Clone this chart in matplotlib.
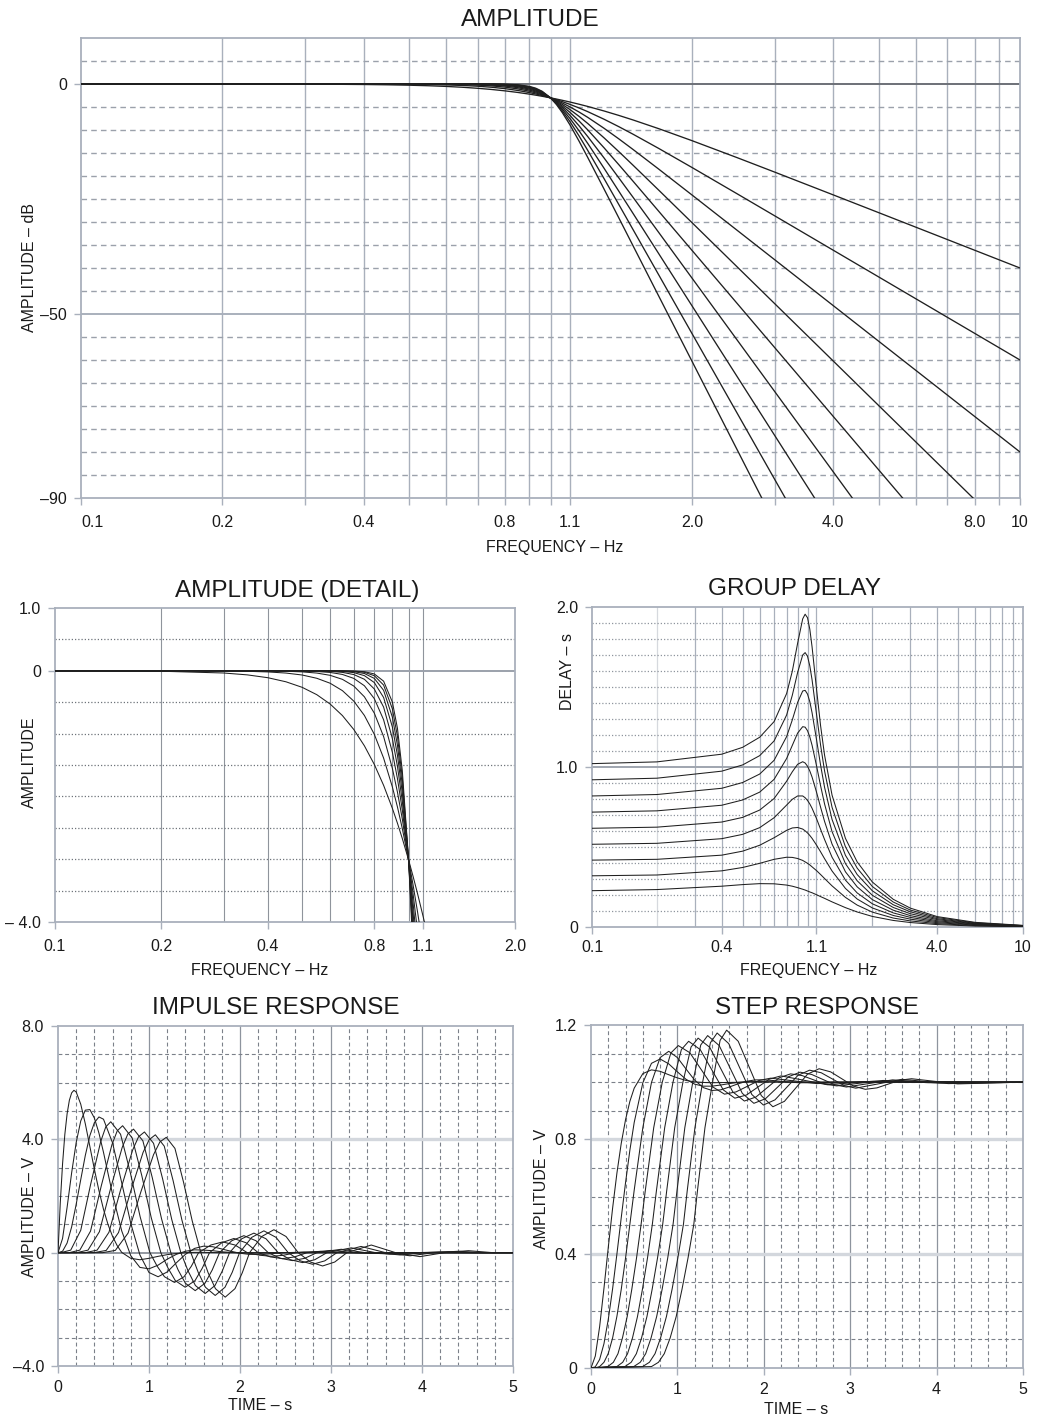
import matplotlib
matplotlib.use("Agg")
import matplotlib.pyplot as plt

plt.rcParams['font.family'] = ['Liberation Sans', 'DejaVu Sans']

W, H = 1038, 1420

# ── Amplitude (dB) vs frequency, orders 2..10 ─────────────
FREQ = [0.1, 0.2, 0.3, 0.35, 0.4, 0.45, 0.5, 0.55, 0.6, 0.65, 0.7, 0.75, 0.8, 0.85, 0.9,
        0.93, 0.96, 1.0, 1.03, 1.06, 1.1, 1.15, 1.2, 1.3, 1.4, 1.5, 1.7, 2.0, 2.5, 3.0,
        4.0, 5.0, 6.0, 8.0, 10.0]
AMP2 = [0.0, -0.007, -0.035, -0.065, -0.11, -0.175, -0.263, -0.38, -0.529, -0.713, -0.935,
        -1.194, -1.491, -1.824, -2.191, -2.426, -2.67, -3.01, -3.275, -3.546, -3.917, -4.392,
        -4.876, -5.862, -6.85, -7.827, -9.709, -12.304, -16.027, -19.138, -24.099, -27.966,
        -31.129, -36.125, -40.0]
AMP3 = [0.0, 0.0, -0.003, -0.008, -0.018, -0.036, -0.067, -0.119, -0.198, -0.316, -0.483,
        -0.711, -1.011, -1.39, -1.851, -2.167, -2.511, -3.01, -3.413, -3.836, -4.427, -5.202,
        -6.005, -7.654, -9.309, -10.931, -14.003, -18.129, -23.894, -28.633, -36.125,
        -41.939, -46.689, -54.185, -60.0]
AMP4 = [0.0, 0.0, 0.0, -0.001, -0.003, -0.007, -0.017, -0.036, -0.072, -0.136, -0.243,
        -0.414, -0.674, -1.047, -1.555, -1.93, -2.359, -3.01, -3.554, -4.139, -4.974, -6.084,
        -7.243, -9.618, -11.975, -14.254, -18.498, -24.099, -31.838, -38.17, -48.165,
        -55.918, -62.252, -72.247, -80.0]
AMP5 = [0.0, 0.0, 0.0, 0.0, 0.0, -0.002, -0.004, -0.011, -0.026, -0.058, -0.121,
        -0.238, -0.443, -0.78, -1.299, -1.714, -2.214, -3.01, -3.699, -4.457, -5.556, -7.029,
        -8.568, -11.698, -14.76, -17.684, -23.066, -30.107, -39.794, -47.712, -60.206,
        -69.897, -77.815, -90.309, -100.0]
AMP6 = [0.0, 0.0, 0.0, 0.0, 0.0, 0.0, -0.001, -0.003, -0.009, -0.025, -0.06,
        -0.135, -0.289, -0.578, -1.08, -1.519, -2.076, -3.01, -3.849, -4.789, -6.168, -8.028,
        -9.963, -13.856, -17.611, -21.164, -27.661, -36.125, -47.753, -57.255, -72.247,
        -83.876, -93.378, -108.37, -120.0]
AMP7 = [0.0, 0.0, 0.0, 0.0, 0.0, 0.0, 0.0, -0.001, -0.003, -0.01, -0.029,
        -0.077, -0.187, -0.425, -0.895, -1.342, -1.944, -3.01, -4.001, -5.133, -6.81, -9.072,
        -11.411, -16.061, -20.497, -24.668, -32.265, -42.145, -55.712, -66.797, -84.288,
        -97.856, -108.93, -126.43, -140.0]
AMP8 = [0.0, 0.0, 0.0, 0.0, 0.0, 0.0, 0.0, 0.0, -0.001, -0.004, -0.014,
        -0.043, -0.121, -0.311, -0.738, -1.183, -1.82, -3.01, -4.158, -5.491, -7.478, -10.153,
        -12.898, -18.296, -23.4, -28.181, -36.873, -48.165, -63.67, -76.339, -96.33,
        -111.83, -124.5, -144.49, -160.0]
AMP9 = [0.0, 0.0, 0.0, 0.0, 0.0, 0.0, 0.0, 0.0, 0.0, -0.002, -0.007,
        -0.024, -0.078, -0.227, -0.607, -1.041, -1.702, -3.01, -4.318, -5.86, -8.169, -11.263,
        -14.413, -20.548, -26.313, -31.699, -41.481, -54.185, -71.629, -85.882, -108.37,
        -125.81, -140.07, -162.56, -180.0]
AMP10 = [0.0, 0.0, 0.0, 0.0, 0.0, 0.0, 0.0, 0.0, 0.0, -0.001, -0.003,
         -0.014, -0.05, -0.165, -0.498, -0.914, -1.59, -3.01, -4.481, -6.24, -8.88, -12.397,
         -15.948, -22.812, -29.231, -35.22, -46.09, -60.206, -79.588, -95.424, -120.41,
         -139.79, -155.63, -180.62, -200.0]
AMPS = [AMP2, AMP3, AMP4, AMP5, AMP6, AMP7, AMP8, AMP9, AMP10]

# ── Group delay (s) ───────────────────────────────────────
GD_FREQ = [0.1, 0.2, 0.4, 0.5, 0.6, 0.7, 0.8, 0.85, 0.9, 0.95, 0.975, 1.0, 1.025, 1.05,
           1.1, 1.15, 1.2, 1.3, 1.5, 1.7, 2.0, 2.5, 3.0, 4.0, 6.0, 10.0]
GD2 = [0.227, 0.234, 0.255, 0.265, 0.271, 0.270, 0.262, 0.255, 0.246, 0.236, 0.231, 0.225,
       0.219, 0.214, 0.202, 0.190, 0.179, 0.157, 0.121, 0.094, 0.066, 0.041, 0.028, 0.015,
       0.006, 0.002]
GD3 = [0.320, 0.325, 0.351, 0.372, 0.398, 0.423, 0.436, 0.435, 0.428, 0.416, 0.407, 0.398,
       0.388, 0.376, 0.353, 0.328, 0.303, 0.257, 0.185, 0.137, 0.093, 0.056, 0.038, 0.021,
       0.009, 0.003]
GD4 = [0.418, 0.423, 0.449, 0.474, 0.511, 0.558, 0.604, 0.619, 0.622, 0.612, 0.601, 0.588,
       0.572, 0.554, 0.513, 0.470, 0.427, 0.350, 0.241, 0.175, 0.119, 0.072, 0.049, 0.027,
       0.012, 0.004]
GD5 = [0.517, 0.523, 0.552, 0.579, 0.621, 0.683, 0.762, 0.798, 0.819, 0.819, 0.808, 0.791,
       0.769, 0.742, 0.679, 0.611, 0.547, 0.436, 0.293, 0.213, 0.145, 0.088, 0.060, 0.033,
       0.015, 0.005]
GD6 = [0.617, 0.624, 0.656, 0.685, 0.731, 0.803, 0.911, 0.970, 1.017, 1.033, 1.025, 1.005,
       0.975, 0.937, 0.845, 0.749, 0.660, 0.518, 0.345, 0.251, 0.171, 0.105, 0.071, 0.039,
       0.018, 0.006]
GD7 = [0.718, 0.726, 0.761, 0.794, 0.843, 0.923, 1.053, 1.135, 1.212, 1.252, 1.249, 1.227,
       1.188, 1.136, 1.011, 0.883, 0.769, 0.596, 0.396, 0.289, 0.198, 0.122, 0.083, 0.046,
       0.020, 0.007]
GD8 = [0.819, 0.828, 0.867, 0.903, 0.956, 1.042, 1.190, 1.294, 1.404, 1.475, 1.479, 1.456,
       1.408, 1.339, 1.175, 1.012, 0.873, 0.672, 0.448, 0.328, 0.226, 0.139, 0.095, 0.052,
       0.023, 0.008]
GD9 = [0.920, 0.930, 0.974, 1.013, 1.071, 1.163, 1.325, 1.448, 1.591, 1.700, 1.715, 1.692,
       1.632, 1.545, 1.335, 1.137, 0.975, 0.748, 0.501, 0.368, 0.253, 0.156, 0.106, 0.059,
       0.026, 0.009]
GD10 = [1.021, 1.032, 1.080, 1.123, 1.186, 1.284, 1.459, 1.598, 1.774, 1.926, 1.955, 1.933,
        1.861, 1.751, 1.493, 1.258, 1.074, 0.824, 0.554, 0.407, 0.281, 0.173, 0.118, 0.065,
        0.029, 0.010]
GDS = [GD2, GD3, GD4, GD5, GD6, GD7, GD8, GD9, GD10]

# ── Impulse response (V) ──────────────────────────────────
IMP_T2 = [0, 0.025, 0.05, 0.075, 0.1, 0.125, 0.15, 0.175, 0.2, 0.25, 0.3, 0.35, 0.4, 0.45,
          0.5, 0.55, 0.6, 0.65, 0.7, 0.8, 0.9, 1.0, 1.1, 1.2, 1.3, 1.4, 1.5, 1.6, 1.8, 2.0, 5.0]
IMP_V2 = [0, 1.76, 3.13, 4.17, 4.90, 5.38, 5.64, 5.73, 5.67, 5.24, 4.55, 3.75, 2.94, 2.19,
          1.53, 0.99, 0.57, 0.25, 0.01, -0.20, -0.25, -0.20, -0.13, -0.07, -0.03, 0.0, 0.01,
          0.01, 0.0, 0.0, 0.0]
IMP_T3 = [0, 0.05, 0.1, 0.15, 0.2, 0.25, 0.3, 0.35, 0.4, 0.45, 0.5, 0.6, 0.7, 0.8, 0.9, 1.0,
          1.1, 1.2, 1.3, 1.4, 1.5, 1.6, 1.7, 1.8, 1.9, 2.0, 2.2, 2.5, 5.0]
IMP_V3 = [0, 0.50, 1.60, 2.82, 3.89, 4.65, 5.03, 5.05, 4.75, 4.22, 3.54, 2.05, 0.77, -0.11,
          -0.52, -0.57, -0.44, -0.23, -0.06, 0.05, 0.10, 0.09, 0.07, 0.03, 0.01, -0.01, -0.01,
          0.0, 0.0]
IMP_T4 = [0, 0.05, 0.1, 0.15, 0.2, 0.25, 0.3, 0.35, 0.4, 0.45, 0.5, 0.6, 0.7, 0.8, 0.9, 1.0,
          1.1, 1.2, 1.3, 1.4, 1.5, 1.6, 1.7, 1.8, 1.9, 2.0, 2.1, 2.2, 2.3, 2.4, 2.5, 2.7, 3.0, 5.0]
IMP_V4 = [0, 0.05, 0.34, 0.91, 1.71, 2.58, 3.43, 4.13, 4.59, 4.79, 4.71, 3.87, 2.47, 1.03,
          -0.08, -0.70, -0.85, -0.68, -0.36, -0.06, 0.15, 0.23, 0.21, 0.13, 0.05, -0.02, -0.06,
          -0.06, -0.05, -0.02, 0.0, 0.02, 0.0, 0.0]
IMP_T5 = [0, 0.03, 0.14, 0.25, 0.36, 0.47, 0.525, 0.58, 0.6875, 0.795, 0.9025, 1.01, 1.09,
          1.17, 1.28, 1.385, 1.465, 1.545, 1.68, 1.81, 1.945, 2.08, 2.215, 2.35, 2.48, 2.615,
          2.88, 3.15, 3.42, 3.685, 5.0]
IMP_V5 = [0, 0, 0.09, 0.79, 2.43, 3.93, 4.44, 4.62, 4.18, 2.82, 1.27, 0, -0.48, -0.85, -1.05,
          -0.85, -0.48, 0, 0.27, 0.38, 0.27, 0, -0.09, -0.13, -0.09, 0, 0.045, 0, -0.015, 0, 0]
IMP_T6 = [0, 0.1225, 0.24, 0.3575, 0.475, 0.5925, 0.651, 0.71, 0.815, 0.92, 1.025, 1.13,
          1.21, 1.29, 1.3975, 1.505, 1.585, 1.665, 1.80, 1.9325, 2.066, 2.2, 2.334, 2.4675,
          2.601, 2.735, 3.0, 3.27, 3.54, 3.805, 5.0]
IMP_V6 = [0, 0, 0.09, 0.76, 2.35, 3.81, 4.30, 4.48, 4.05, 2.73, 1.23, 0, -0.55, -0.99, -1.22,
          -0.99, -0.55, 0, 0.35, 0.50, 0.35, 0, -0.15, -0.21, -0.15, 0, 0.08, 0, -0.03, 0, 0]
IMP_T7 = [0, 0.205, 0.33, 0.455, 0.58, 0.705, 0.7675, 0.83, 0.9325, 1.035, 1.1375, 1.24,
          1.32, 1.40, 1.5075, 1.615, 1.695, 1.775, 1.909, 2.0425, 2.176, 2.31, 2.444, 2.5775,
          2.711, 2.845, 3.1125, 3.38, 3.6475, 3.915, 4.18, 4.45, 5.0]
IMP_V7 = [0, 0, 0.09, 0.74, 2.29, 3.71, 4.19, 4.36, 3.95, 2.66, 1.20, 0, -0.61, -1.08, -1.34,
          -1.08, -0.61, 0, 0.42, 0.60, 0.42, 0, -0.20, -0.28, -0.20, 0, 0.12, 0, -0.05, 0,
          0.02, 0, 0]
IMP_T8 = [0, 0.30, 0.43, 0.56, 0.69, 0.82, 0.885, 0.95, 1.05, 1.15, 1.25, 1.35, 1.43, 1.51,
          1.6175, 1.725, 1.805, 1.885, 2.019, 2.1525, 2.286, 2.42, 2.554, 2.6875, 2.821,
          2.955, 3.2225, 3.49, 3.7575, 4.025, 4.29, 4.56, 5.0]
IMP_V8 = [0, 0, 0.09, 0.72, 2.24, 3.62, 4.09, 4.26, 3.86, 2.60, 1.17, 0, -0.65, -1.16, -1.44,
          -1.16, -0.65, 0, 0.49, 0.69, 0.49, 0, -0.25, -0.35, -0.25, 0, 0.17, 0, -0.08, 0,
          0.035, 0, 0]
IMP_T9 = [0, 0.395, 0.53, 0.665, 0.80, 0.935, 1.0025, 1.07, 1.1675, 1.265, 1.3625, 1.46,
          1.54, 1.62, 1.7275, 1.835, 1.915, 1.995, 2.129, 2.2625, 2.396, 2.53, 2.664, 2.7975,
          2.931, 3.065, 3.33, 3.60, 3.8675, 4.135, 4.40, 4.67, 5.0]
IMP_V9 = [0, 0, 0.08, 0.71, 2.18, 3.54, 3.99, 4.16, 3.76, 2.54, 1.14, 0, -0.69, -1.22, -1.51,
          -1.22, -0.69, 0, 0.54, 0.77, 0.54, 0, -0.29, -0.41, -0.29, 0, 0.22, 0, -0.11, 0,
          0.05, 0, 0]
IMP_T10 = [0, 0.49, 0.63, 0.77, 0.91, 1.05, 1.12, 1.19, 1.285, 1.38, 1.475, 1.57, 1.65, 1.73,
           1.8375, 1.945, 2.025, 2.105, 2.239, 2.3725, 2.506, 2.64, 2.774, 2.9075, 3.041,
           3.175, 3.4425, 3.71, 3.9775, 4.245, 4.51, 4.78, 5.0]
IMP_V10 = [0, 0, 0.08, 0.69, 2.14, 3.46, 3.91, 4.07, 3.68, 2.48, 1.12, 0, -0.71, -1.27,
           -1.57, -1.27, -0.71, 0, 0.57, 0.81, 0.57, 0, -0.33, -0.47, -0.33, 0, 0.27, 0,
           -0.14, 0, 0.07, 0, 0]
IMP_T = [IMP_T2, IMP_T3, IMP_T4, IMP_T5, IMP_T6, IMP_T7, IMP_T8, IMP_T9, IMP_T10]
IMP_V = [IMP_V2, IMP_V3, IMP_V4, IMP_V5, IMP_V6, IMP_V7, IMP_V8, IMP_V9, IMP_V10]

# ── Step response (V) ─────────────────────────────────────
STEP_T2 = [0, 0.05, 0.1, 0.15, 0.2, 0.25, 0.3, 0.35, 0.4, 0.45, 0.5, 0.6, 0.7, 0.8, 0.9, 1.0,
           1.1, 1.2, 1.3, 1.4, 1.6, 1.8, 5.0]
STEP_V2 = [0, 0.042, 0.145, 0.279, 0.422, 0.559, 0.682, 0.786, 0.869, 0.933, 0.979, 1.030,
           1.043, 1.038, 1.026, 1.015, 1.006, 1.001, 0.999, 0.998, 0.999, 1.0, 1.0]
STEP_T3 = [0, 0.05, 0.1, 0.15, 0.2, 0.25, 0.3, 0.35, 0.4, 0.45, 0.5, 0.6, 0.7, 0.8, 0.9, 1.0,
           1.1, 1.2, 1.3, 1.4, 1.5, 1.6, 1.7, 1.8, 1.9, 2.0, 2.2, 2.5, 5.0]
STEP_V3 = [0, 0.004, 0.030, 0.085, 0.170, 0.277, 0.399, 0.526, 0.649, 0.762, 0.859, 0.998,
           1.066, 1.081, 1.064, 1.036, 1.010, 0.993, 0.986, 0.986, 0.990, 0.995, 0.999, 1.002,
           1.002, 1.002, 1.001, 1.0, 1.0]
STEP_T4 = [0, 0.05, 0.1, 0.15, 0.2, 0.25, 0.3, 0.35, 0.4, 0.45, 0.5, 0.6, 0.7, 0.8, 0.9, 1.0,
           1.1, 1.2, 1.3, 1.4, 1.5, 1.6, 1.7, 1.8, 1.9, 2.0, 2.1, 2.2, 2.4, 2.6, 2.8, 5.0]
STEP_V4 = [0, 0.0, 0.005, 0.020, 0.051, 0.105, 0.181, 0.275, 0.385, 0.503, 0.622, 0.841,
           0.999, 1.086, 1.108, 1.086, 1.046, 1.007, 0.981, 0.971, 0.973, 0.983, 0.994, 1.003,
           1.008, 1.008, 1.006, 1.003, 0.998, 0.998, 1.0, 1.0]
STEP_T5 = [0, 0.195, 0.259, 0.312, 0.364, 0.419, 0.472, 0.527, 0.58, 0.629, 0.726, 0.825,
           0.924, 1.01, 1.144, 1.278, 1.411, 1.545, 1.679, 1.8125, 1.946, 2.08, 2.3475, 2.615,
           3.15, 5.0]
STEP_V5 = [0, 0.005, 0.02, 0.05, 0.105, 0.18, 0.275, 0.385, 0.503, 0.622, 0.841, 1.0, 1.102,
           1.128, 1.103, 1.043, 0.983, 0.958, 0.966, 0.986, 1.006, 1.014, 1.0045, 0.995, 1.002,
           1.0]
STEP_T6 = [0, 0.299, 0.367, 0.423, 0.480, 0.538, 0.595, 0.654, 0.71, 0.758, 0.853, 0.949,
           1.046, 1.13, 1.264, 1.3975, 1.531, 1.665, 1.799, 1.9325, 2.066, 2.2, 2.4675, 2.735,
           3.27, 5.0]
STEP_V6 = [0, 0.005, 0.02, 0.05, 0.105, 0.18, 0.275, 0.385, 0.503, 0.622, 0.841, 1.0, 1.114,
           1.143, 1.114, 1.0435, 0.973, 0.944, 0.955, 0.983, 1.011, 1.022, 1.0065, 0.991,
           1.0035, 1.0]
STEP_T7 = [0, 0.3925, 0.465, 0.525, 0.585, 0.6475, 0.7075, 0.77, 0.83, 0.877, 0.969, 1.064,
           1.158, 1.24, 1.374, 1.5075, 1.641, 1.775, 1.909, 2.0425, 2.176, 2.31, 2.444, 2.5775,
           2.711, 2.845, 3.38, 3.915, 5.0]
STEP_V7 = [0, 0.005, 0.02, 0.05, 0.105, 0.18, 0.275, 0.385, 0.503, 0.622, 0.841, 1.0, 1.123,
           1.154, 1.122, 1.044, 0.966, 0.934, 0.948, 0.9815, 1.015, 1.029, 1.023, 1.008, 0.993,
           0.987, 1.006, 0.998, 1.0]
STEP_T8 = [0, 0.495, 0.570, 0.633, 0.695, 0.760, 0.823, 0.888, 0.95, 0.996, 1.086, 1.178,
           1.27, 1.35, 1.484, 1.6175, 1.751, 1.885, 2.019, 2.1525, 2.286, 2.42, 2.554, 2.6875,
           2.821, 2.955, 3.2225, 3.49, 3.7575, 4.025, 5.0]
STEP_V8 = [0, 0.005, 0.02, 0.05, 0.105, 0.18, 0.275, 0.385, 0.503, 0.622, 0.841, 1.0, 1.130,
           1.163, 1.128, 1.0445, 0.961, 0.926, 0.942, 0.9805, 1.019, 1.035, 1.027, 1.009, 0.991,
           0.983, 0.9955, 1.008, 1.0025, 0.997, 1.0]
STEP_T9 = [0, 0.5975, 0.676, 0.741, 0.805, 0.873, 0.938, 1.005, 1.07, 1.1145, 1.203, 1.292,
           1.382, 1.46, 1.594, 1.7275, 1.861, 1.995, 2.129, 2.2625, 2.396, 2.53, 2.664, 2.7975,
           2.931, 3.065, 3.3325, 3.60, 3.8675, 4.135, 5.0]
STEP_V9 = [0, 0.005, 0.02, 0.05, 0.105, 0.18, 0.275, 0.385, 0.503, 0.622, 0.841, 1.0, 1.138,
           1.172, 1.135, 1.046, 0.957, 0.920, 0.938, 0.981, 1.024, 1.042, 1.033, 1.0105, 0.988,
           0.979, 0.9945, 1.010, 1.0025, 0.995, 1.0]
STEP_T10 = [0, 0.70, 0.781, 0.848, 0.916, 0.986, 1.053, 1.123, 1.19, 1.233, 1.319, 1.407,
            1.494, 1.57, 1.704, 1.8375, 1.971, 2.105, 2.239, 2.3725, 2.506, 2.64, 2.774,
            2.9075, 3.041, 3.175, 3.309, 3.4425, 3.576, 3.71, 3.9775, 4.245, 5.0]
STEP_V10 = [0, 0.005, 0.02, 0.05, 0.105, 0.18, 0.275, 0.385, 0.503, 0.622, 0.841, 1.0, 1.146,
            1.182, 1.143, 1.048, 0.953, 0.914, 0.933, 0.9805, 1.028, 1.047, 1.036, 1.011,
            0.986, 0.975, 0.980, 0.9935, 1.007, 1.012, 1.003, 0.994, 1.0]
STEP_T = [STEP_T2, STEP_T3, STEP_T4, STEP_T5, STEP_T6, STEP_T7, STEP_T8, STEP_T9, STEP_T10]
STEP_V = [STEP_V2, STEP_V3, STEP_V4, STEP_V5, STEP_V6, STEP_V7, STEP_V8, STEP_V9, STEP_V10]

# ── Styling ───────────────────────────────────────────────
CURVE = '#1f1f1f'
GRID = '#a9b0bc'
DARK_GRID = '#7b8089'
LIGHT_BAND = '#d3d7dd'
TXT = '#1a1a1a'
FS_TICK = 11.5
FS_LABEL = 11.5
FS_TITLE = 17.5

fig = plt.figure(figsize=(W / 100, H / 100), dpi=100)
fig.patch.set_facecolor('white')


def px_axes(left, top, right, bottom):
    return fig.add_axes([left / W, 1 - bottom / H, (right - left) / W, (bottom - top) / H])


def style(ax):
    for sp in ax.spines.values():
        sp.set_color(GRID)
        sp.set_linewidth(1.3)
    ax.tick_params(axis='both', colors=GRID, labelcolor=TXT, labelsize=FS_TICK,
                   length=5, width=1.0, direction='out', pad=5)
    ax.set_facecolor('white')


def ftext(x, y, s, size=FS_LABEL, rot=0):
    fig.text(x / W, 1 - y / H, s, ha='center', va='center', fontsize=size,
             rotation=rot, color=TXT)


# ── Panel 1: amplitude ────────────────────────────────────
ax1 = px_axes(81, 38, 1020, 498)
ax1.set_xscale('log')
V1 = [0.2, 0.3, 0.4, 0.5, 0.6, 0.7, 0.8, 0.9, 1.0, 1.1, 2, 3, 4, 5, 6, 7, 8, 9]
for f in V1:
    ax1.axvline(f, color=GRID, lw=1.0, zorder=1)
for y in range(5, -90, -5):
    if y not in (0, -50):
        ax1.axhline(y, color='#9ba1ab', lw=1.0, ls=(0, (4, 3)), zorder=1)
ax1.axhline(0, color='#6c7077', lw=1.4, zorder=2)
ax1.axhline(-50, color=GRID, lw=1.4, zorder=2)
for amp in AMPS:
    ax1.plot(FREQ, amp, color=CURVE, lw=0.95, zorder=3)
ax1.set_xlim(0.1, 10)
ax1.set_ylim(-90, 10)
ax1.minorticks_off()
XT1 = [0.1, 0.2, 0.3, 0.4, 0.5, 0.6, 0.7, 0.8, 0.9, 1.0, 1.1, 2, 3, 4, 5, 6, 7, 8, 9, 10]
XL1 = ['0.1', '0.2', '', '0.4', '', '', '', '0.8', '', '', '1.1', '2.0', '', '4.0', '', '',
       '', '8.0', '', '10']
ax1.set_xticks(XT1, XL1)
ax1.set_yticks([0, -50, -90], ['0', '–50', '–90'])
style(ax1)
ax1.tick_params(axis='x', pad=7)
ax1.get_xticklabels()[0].set_horizontalalignment('left')
ftext(530, 20, 'AMPLITUDE', FS_TITLE)
ftext(555, 547, 'FREQUENCY – Hz')
ftext(30, 268, 'AMPLITUDE – dB', rot=90)

# ── Panel 2: amplitude detail ─────────────────────────────
ax2 = px_axes(55, 608, 515, 922)
ax2.set_xscale('log')
for f in [0.2, 0.3, 0.4, 0.5, 0.6, 0.7, 0.8, 0.9, 1.0, 1.1]:
    ax2.axvline(f, color='#8f949c', lw=0.8, zorder=1)
for y in [0.5, -0.5, -1.0, -1.5, -2.0, -2.5, -3.0, -3.5]:
    ax2.axhline(y, color='#6f747b', lw=0.9, ls=(0, (1, 1.6)), zorder=1)
ax2.axhline(0, color='#9ba1ab', lw=1.4, zorder=2)
for amp in AMPS:
    ax2.plot(FREQ, amp, color=CURVE, lw=0.75, zorder=3)
ax2.set_xlim(0.1, 2.0)
ax2.set_ylim(-4.0, 1.0)
ax2.minorticks_off()
ax2.set_xticks([0.1, 0.2, 0.4, 0.8, 1.1, 2.0], ['0.1', '0.2', '0.4', '0.8', '1.1', '2.0'])
ax2.set_yticks([1.0, 0, -4.0], ['1.0', '0', '– 4.0'])
style(ax2)
ax2.tick_params(axis='x', pad=7)
ftext(297, 591, 'AMPLITUDE (DETAIL)', FS_TITLE)
ftext(260, 970, 'FREQUENCY – Hz')
ftext(29, 762, 'AMPLITUDE', rot=90)

# ── Panel 3: group delay ──────────────────────────────────
ax3 = px_axes(592, 607, 1023, 927)
ax3.set_xscale('log')
ax3.axvline(0.2, color='#d6d9de', lw=0.9, zorder=1)
for f in [0.3, 0.4, 0.5, 0.6, 0.7, 0.8, 0.9, 1.0, 1.1, 2, 3, 4, 5, 6, 7, 8, 9]:
    ax3.axvline(f, color=GRID, lw=0.9, zorder=1)
for i in range(1, 20):
    if i != 10:
        ax3.axhline(i / 10, color='#8f959e', lw=0.9, ls=(0, (1, 1.6)), zorder=1)
ax3.axhline(1.0, color='#9fa5af', lw=1.4, zorder=2)
for gd in GDS:
    ax3.plot(GD_FREQ, gd, color=CURVE, lw=0.75, zorder=3)
ax3.set_xlim(0.1, 10)
ax3.set_ylim(0, 2.0)
ax3.minorticks_off()
ax3.set_xticks([0.1, 0.4, 1.1, 4.0, 10], ['0.1', '0.4', '1.1', '4.0', '10'])
ax3.set_yticks([0, 1.0, 2.0], ['0', '1.0', '2.0'])
style(ax3)
ax3.tick_params(axis='x', pad=4)
ftext(794, 589, 'GROUP DELAY', FS_TITLE)
ftext(809, 970, 'FREQUENCY – Hz')
ftext(567, 672, 'DELAY – s', rot=90)

# ── Panel 4: impulse response ─────────────────────────────
ax4 = px_axes(58, 1026, 513, 1366)
for i in range(1, 25):
    t = i * 0.2
    if i % 5:
        ax4.axvline(t, color=DARK_GRID, lw=0.8, ls=(0, (3.5, 2.5)), zorder=1)
    else:
        ax4.axvline(t, color='#8e949e', lw=0.9, zorder=1)
for y in [7, 6, 5, 3, 2, 1, -1, -2, -3]:
    ax4.axhline(y, color=DARK_GRID, lw=0.8, ls=(0, (3.5, 2.5)), zorder=1)
ax4.axhline(4.0, color=LIGHT_BAND, lw=2.4, zorder=1)
ax4.axhline(0, color='#8a9099', lw=1.3, zorder=2)
for t, v in zip(IMP_T, IMP_V):
    ax4.plot(t, v, color=CURVE, lw=0.75, zorder=3)
ax4.set_xlim(0, 5)
ax4.set_ylim(-4.0, 8.0)
ax4.set_xticks([0, 1, 2, 3, 4, 5], ['0', '1', '2', '3', '4', '5'])
ax4.set_yticks([8.0, 4.0, 0, -4.0], ['8.0', '4.0', '0', '–4.0'])
style(ax4)
ftext(276, 1008, 'IMPULSE RESPONSE', FS_TITLE)
ftext(260, 1406, 'TIME – s')
ftext(29, 1217, 'AMPLITUDE – V', rot=90)

# ── Panel 5: step response ────────────────────────────────
ax5 = px_axes(591, 1025, 1023, 1368)
for i in range(1, 25):
    t = i * 0.2
    if i % 5:
        ax5.axvline(t, color=DARK_GRID, lw=0.8, ls=(0, (3.5, 2.5)), zorder=1)
    else:
        ax5.axvline(t, color='#8e949e', lw=0.9, zorder=1)
for y in [0.1, 0.2, 0.3, 0.5, 0.6, 0.7, 0.9, 1.0, 1.1]:
    ax5.axhline(y, color=DARK_GRID, lw=0.8, ls=(0, (3.5, 2.5)), zorder=1)
for y in [0.4, 0.8]:
    ax5.axhline(y, color=LIGHT_BAND, lw=2.4, zorder=1)
for t, v in zip(STEP_T, STEP_V):
    ax5.plot(t, v, color=CURVE, lw=0.75, zorder=3)
ax5.set_xlim(0, 5)
ax5.set_ylim(0, 1.2)
ax5.set_xticks([0, 1, 2, 3, 4, 5], ['0', '1', '2', '3', '4', '5'])
ax5.set_yticks([0, 0.4, 0.8, 1.2], ['0', '0.4', '0.8', '1.2'])
style(ax5)
ftext(817, 1008, 'STEP RESPONSE', FS_TITLE)
ftext(796, 1409, 'TIME – s')
ftext(541, 1189, 'AMPLITUDE – V', rot=90)

fig.savefig('out.png', dpi=100, facecolor='white')
